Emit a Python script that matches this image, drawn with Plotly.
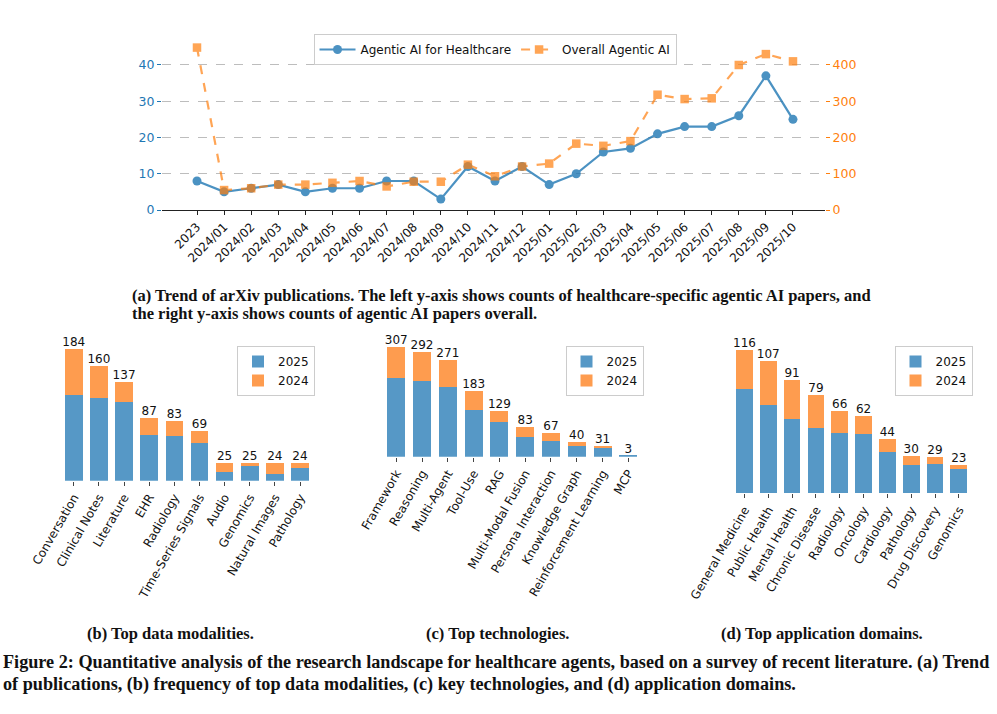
import plotly.graph_objects as go

# ---------------- data ----------------
months = ["2023", "2024/01", "2024/02", "2024/03", "2024/04", "2024/05", "2024/06",
          "2024/07", "2024/08", "2024/09", "2024/10", "2024/11", "2024/12",
          "2025/01", "2025/02", "2025/03", "2025/04", "2025/05", "2025/06",
          "2025/07", "2025/08", "2025/09", "2025/10"]
healthcare_counts = [8, 5, 6, 7, 5, 6, 6, 8, 8, 3, 12, 8, 12, 7, 10, 16, 17, 21, 23, 23, 26, 37, 25]
overall_counts = [448, 55, 60, 70, 70, 75, 80, 65, 78, 78, 125, 93, 120, 128, 183, 177, 190,
                  318, 306, 308, 400, 430, 410]

mod_cats = ["Conversation", "Clinical Notes", "Literature", "EHR", "Radiology",
            "Time-Series Signals", "Audio", "Genomics", "Natural Images", "Pathology"]
mod_2025 = [120, 115, 110, 64, 62, 53, 12, 21, 10, 17]
mod_2024 = [64, 45, 27, 23, 21, 16, 13, 4, 14, 7]
mod_total = [184, 160, 137, 87, 83, 69, 25, 25, 24, 24]

tech_cats = ["Framework", "Reasoning", "Multi-Agent", "Tool-Use", "RAG", "Multi-Modal Fusion",
             "Persona Interaction", "Knowledge Graph", "Reinforcement Learning", "MCP"]
tech_2025 = [221, 211, 195, 131, 97, 54, 43, 31, 26, 3]
tech_2024 = [86, 81, 76, 52, 32, 29, 24, 9, 5, 0]
tech_total = [307, 292, 271, 183, 129, 83, 67, 40, 31, 3]

dom_cats = ["General Medicine", "Public Health", "Mental Health", "Chronic Disease", "Radiology",
            "Oncology", "Cardiology", "Pathology", "Drug Discovery", "Genomics"]
dom_2025 = [84, 71, 60, 53, 49, 48, 33, 23, 24, 20]
dom_2024 = [32, 36, 31, 26, 17, 14, 11, 7, 5, 3]
dom_total = [116, 107, 91, 79, 66, 62, 44, 30, 29, 23]

# ---------------- style ----------------
W, H = 997, 714
BLUE = "#1f77b4"
ORANGE = "#ff7f0e"
BAR_BLUE = "#5698c6"
BAR_ORANGE = "#fe9c4f"
SANS = "DejaVu Sans"
SERIF = "Liberation Serif"


def px_x(p):
    return p / W


def px_y(p):
    return 1 - p / H


fig = go.Figure()

# ---------------- (a) trend ----------------
fig.add_trace(go.Scatter(
    x=months, y=healthcare_counts, name="Agentic AI for Healthcare",
    mode="lines+markers", xaxis="x", yaxis="y",
    line=dict(color=BLUE, width=2.2), marker=dict(symbol="circle", size=9, color=BLUE),
    opacity=0.8, legend="legend"))
fig.add_trace(go.Scatter(
    x=months, y=overall_counts, name="Overall Agentic AI",
    mode="lines+markers", xaxis="x", yaxis="y2",
    line=dict(color=ORANGE, width=2.2, dash="dash"),
    marker=dict(symbol="square", size=8.5, color=ORANGE),
    opacity=0.7, legend="legend"))

# ---------------- bar panels ----------------
panels = [
    ("x2", "y3", mod_cats, mod_2025, mod_2024, mod_total, "legend2"),
    ("x3", "y4", tech_cats, tech_2025, tech_2024, tech_total, "legend3"),
    ("x4", "y5", dom_cats, dom_2025, dom_2024, dom_total, "legend4"),
]
for xa, ya, cats, v25, v24, tot, lg in panels:
    fig.add_trace(go.Bar(x=cats, y=v25, name="2025", xaxis=xa, yaxis=ya,
                         marker=dict(color=BAR_BLUE, line=dict(width=0)), width=0.7,
                         legend=lg))
    fig.add_trace(go.Bar(x=cats, y=v24, name="2024", xaxis=xa, yaxis=ya,
                         marker=dict(color=BAR_ORANGE, line=dict(width=0)), width=0.7,
                         legend=lg))
    fig.add_trace(go.Scatter(x=cats, y=tot, text=[str(t) for t in tot], mode="text",
                             textposition="top center", xaxis=xa, yaxis=ya,
                             textfont=dict(family=SANS, size=12, color="#111"),
                             showlegend=False, cliponaxis=False, hoverinfo="skip"))

# ---------------- layout ----------------
top_dom_x = [px_x(162), px_x(825)]
top_dom_y = [px_y(210), px_y(39.6)]
step = 27.09
x_range_top = [(162 - 197) / step, (825 - 197) / step]

bar_ax_common = dict(type="category", showline=False, showgrid=False, zeroline=False,
                     ticks="outside", ticklen=4, tickwidth=1, tickcolor="#444",
                     tickangle=-60, tickfont=dict(family=SANS, size=12, color="#111"),
                     range=[-0.7, 9.7], automargin=False)
bar_y_common = dict(visible=False, showgrid=False, zeroline=False, automargin=False)

legend_common = dict(bgcolor="white", bordercolor="#cccccc", borderwidth=1,
                     font=dict(family=SANS, size=12, color="#111"),
                     xanchor="right", yanchor="top", traceorder="normal",
                     itemwidth=30, tracegroupgap=0)

fig.update_layout(
    width=W, height=H, autosize=False,
    margin=dict(l=0, r=0, t=0, b=0, autoexpand=False),
    paper_bgcolor="white", plot_bgcolor="white",
    barmode="stack",
    font=dict(family=SANS, size=12, color="#111"),
    xaxis=dict(domain=top_dom_x, anchor="y", type="category", range=x_range_top,
               showline=True, linecolor="#222", linewidth=1.3, showgrid=False,
               ticks="outside", ticklen=4, tickcolor="#222", tickangle=-45,
               tickfont=dict(family=SANS, size=12, color="#111"), automargin=False),
    yaxis=dict(domain=top_dom_y, anchor="x", range=[0, 47],
               tickvals=[0, 10, 20, 30, 40], showgrid=True, gridcolor="#bdbdbd",
               griddash="dash", gridwidth=1, zeroline=False, showline=False,
               ticks="outside", ticklen=4, tickcolor=BLUE, automargin=False,
               tickfont=dict(family=SANS, size=12.5, color=BLUE)),
    yaxis2=dict(overlaying="y", side="right", anchor="x", range=[0, 470],
                tickvals=[0, 100, 200, 300, 400], showgrid=False, zeroline=False,
                showline=False, ticks="outside", ticklen=4, tickcolor=ORANGE,
                automargin=False, tickfont=dict(family=SANS, size=12.5, color=ORANGE)),
    xaxis2=dict(domain=[px_x(56.2), px_x(317.6)], anchor="y3", **bar_ax_common),
    yaxis3=dict(domain=[px_y(480.7), px_y(338)], anchor="x2", range=[0, 198.72],
                **bar_y_common),
    xaxis3=dict(domain=[px_x(378.2), px_x(646.4)], anchor="y4", **bar_ax_common),
    yaxis4=dict(domain=[px_y(456.7), px_y(338)], anchor="x3", range=[0, 331.56],
                **bar_y_common),
    xaxis4=dict(domain=[px_x(727.8), px_x(975.5)], anchor="y5", **bar_ax_common),
    yaxis5=dict(domain=[px_y(493.3), px_y(338)], anchor="x4", range=[0, 125.28],
                **bar_y_common),
    legend=dict(orientation="h", x=0.4965, xanchor="center", y=px_y(34), yanchor="top",
                bgcolor="white", bordercolor="#cccccc", borderwidth=1,
                font=dict(family=SANS, size=12, color="#111"), itemwidth=36),
    legend2=dict(x=px_x(315), y=px_y(346), **legend_common),
    legend3=dict(x=px_x(643.5), y=px_y(346), **legend_common),
    legend4=dict(x=px_x(972.5), y=px_y(346), **legend_common),
)

# ---------------- captions ----------------
def caption(text, x, y, size, xanchor="left"):
    fig.add_annotation(text=text, xref="paper", yref="paper", x=x, y=y,
                       xanchor=xanchor, yanchor="middle", showarrow=False,
                       font=dict(family=SERIF, size=size, color="#111"), align="left")


caption("<b>(a) Trend of arXiv publications. The left y-axis shows counts of healthcare-specific "
        "agentic AI papers, and</b>", px_x(130), px_y(295), 16.5)
caption("<b>the right y-axis shows counts of agentic AI papers overall.</b>",
        px_x(130), px_y(313), 16.5)
caption("<b>(b) Top data modalities.</b>", px_x(170), px_y(633), 16.5, "center")
caption("<b>(c) Top technologies.</b>", px_x(497), px_y(633), 16.5, "center")
caption("<b>(d) Top application domains.</b>", px_x(822), px_y(633), 16.5, "center")
caption("<b>Figure 2: Quantitative analysis of the research landscape for healthcare agents, based on "
        "a survey of recent literature. (a) Trend</b>", px_x(1), px_y(662), 18.2)
caption("<b>of publications, (b) frequency of top data modalities, (c) key technologies, and (d) "
        "application domains.</b>", px_x(1), px_y(684), 18.2)

fig.write_html("out.html", config={"displayModeBar": False},
               post_script="document.body.style.margin='0';document.body.style.padding='0';")
